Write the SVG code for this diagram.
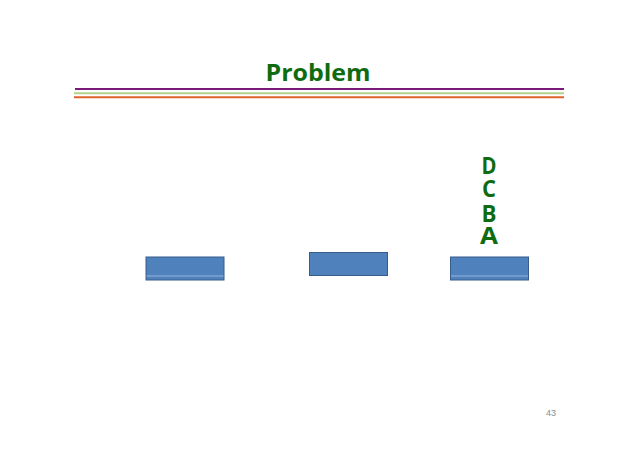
<svg xmlns="http://www.w3.org/2000/svg" width="638" height="452" viewBox="0 0 638 452">
<style>
.t{font-family:"Open Sans","Liberation Sans",sans-serif;font-weight:bold;fill:#0F6B0F}
.s{font-family:"Open Sans","Liberation Sans",sans-serif;font-weight:bold;fill:#0F6B0F;font-size:23.5px}
.blk{fill:#4F81BD;stroke:#385D8A;stroke-width:1}
.hl{stroke:#A9C1E0;stroke-width:0.8}
</style>
<rect width="638" height="452" fill="#fff"/>
<g id="title">
<text class="t" x="318" y="81" font-size="24" text-anchor="middle" textLength="105" lengthAdjust="spacingAndGlyphs">Problem</text>
</g>
<g id="rules">
<line x1="75" y1="89" x2="564" y2="89" stroke="#7B1A7B" stroke-width="2"/>
<line x1="74" y1="93.2" x2="564" y2="93.2" stroke="#B5D08C" stroke-width="2"/>
<line x1="74" y1="97.3" x2="564" y2="97.3" stroke="#E0622E" stroke-width="2"/>
</g>
<g id="block1">
<rect class="blk" x="146" y="257" width="78" height="23"/>
<line class="hl" x1="146.5" y1="276" x2="223.5" y2="276"/>
</g>
<g id="block2">
<rect class="blk" x="309.5" y="252.5" width="78" height="23"/>
</g>
<g id="block3">
<rect class="blk" x="450.5" y="257" width="78" height="23"/>
<line class="hl" x1="451" y1="276" x2="528" y2="276"/>
</g>
<g id="stack">
<text class="s" x="481.5" y="174" textLength="15" lengthAdjust="spacingAndGlyphs">D</text>
<text class="s" x="482" y="197" textLength="14" lengthAdjust="spacingAndGlyphs">C</text>
<text class="s" x="481.5" y="221.5" textLength="15" lengthAdjust="spacingAndGlyphs">B</text>
<text class="s" x="480" y="244" textLength="18" lengthAdjust="spacingAndGlyphs">A</text>
</g>
<g id="pagenum">
<text x="551" y="416" font-family="Liberation Sans,sans-serif" font-size="9" fill="#8C8C8C" text-anchor="middle">43</text>
</g>
</svg>
